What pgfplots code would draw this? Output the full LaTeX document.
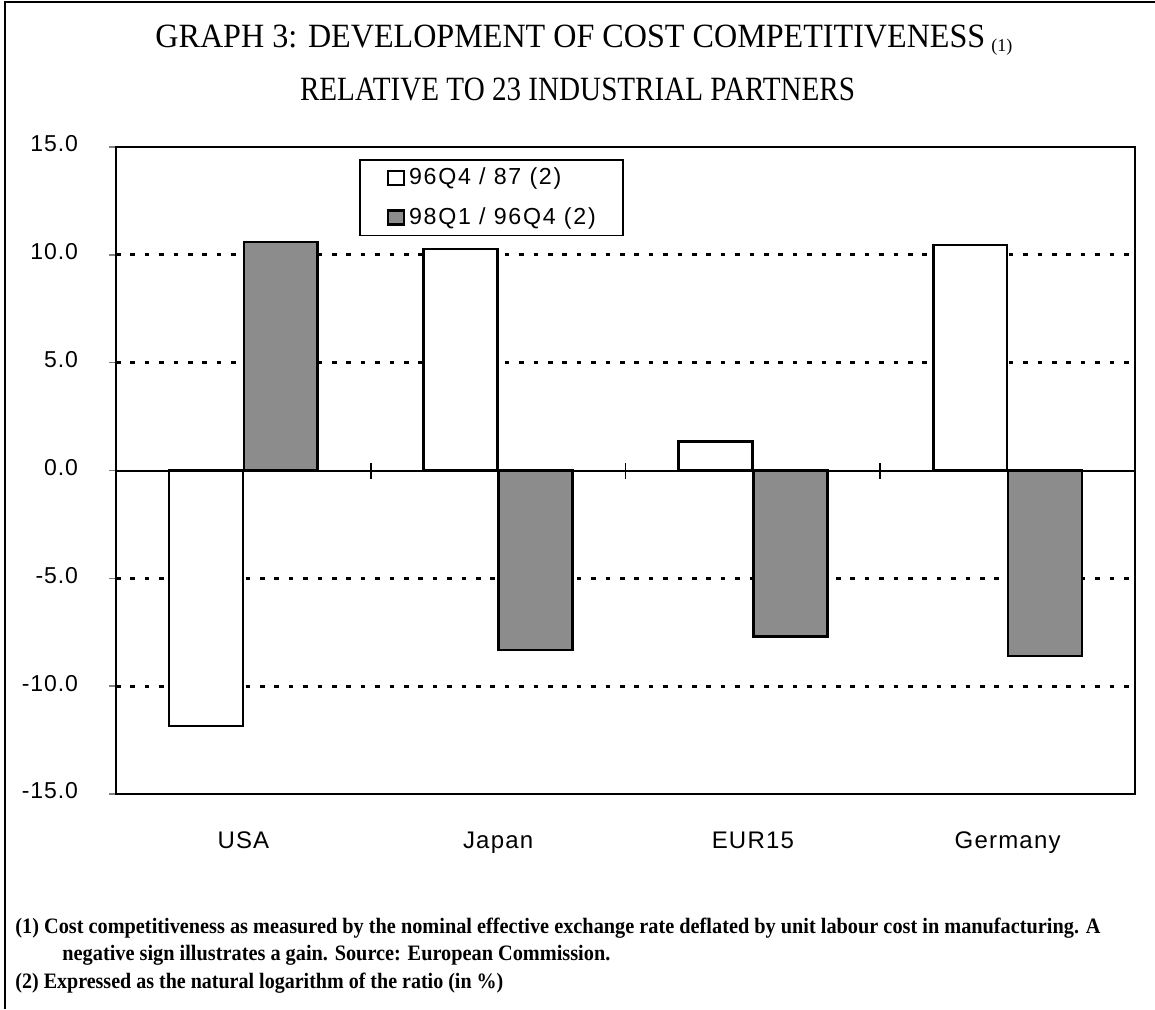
\documentclass[border=0pt]{standalone}
\usepackage{pgfplots}
\pgfplotsset{compat=1.18}
\usepackage{fontspec}
\usepackage{graphicx}
\setmainfont{Liberation Serif}
\newfontfamily\ticksans{Liberation Sans}[LetterSpace=4]
\newfontfamily\catsans{Liberation Sans}[LetterSpace=5]
\newfontfamily\legsans{Liberation Sans}[LetterSpace=7.5]
\begin{document}
\begin{tikzpicture}[x=1pt,y=1pt]
\useasboundingbox (0,0) rectangle (577.5,504.5);
\draw[line width=1pt] (2.5,0) -- (2.5,503.5) -- (577.5,503.5);
\node[anchor=west, inner sep=0] at (77.5,484.5) {\resizebox{415pt}{\height}{\fontsize{17}{20}\selectfont GRAPH 3: DEVELOPMENT OF COST COMPETITIVENESS}\hspace{3pt}\raisebox{-2pt}{\fontsize{9}{11}\selectfont (1)}};
\node[inner sep=0] at (288.75,459.5) {\resizebox{277.5pt}{\height}{\fontsize{17}{20}\selectfont RELATIVE TO 23 INDUSTRIAL PARTNERS}};
\node[anchor=west, inner sep=0] at (7.5,40.5) {\resizebox{542.5pt}{\height}{\fontsize{11}{13}\selectfont\bfseries (1) Cost competitiveness as measured by the nominal effective exchange rate deflated by unit labour cost in manufacturing. A}};
\node[anchor=west, inner sep=0] at (31,27) {\resizebox{274pt}{\height}{\fontsize{11}{13}\selectfont\bfseries negative sign illustrates a gain. Source: European Commission.}};
\node[anchor=west, inner sep=0] at (7.5,13) {\resizebox{244pt}{\height}{\fontsize{11}{13}\selectfont\bfseries (2) Expressed as the natural logarithm of the ratio (in \%)}};
\begin{axis}[
  at={(58pt,107.5pt)}, anchor=south west,
  width=509.5pt, height=323.5pt, scale only axis,
  axis line style={line width=1.2pt},
  xmin=-0.5, xmax=3.5, ymin=-15, ymax=15,
  xtick={0,1,2,3}, xticklabels={USA,Japan,EUR15,Germany},
  x tick style={draw=none},
  xticklabel style={font=\catsans\fontsize{12}{14}\selectfont, yshift=-12pt},
  ytick={-15,-10,-5,0,5,10,15},
  yticklabels={-15.0,-10.0,-5.0,0.0,5.0,10.0,15.0},
  yticklabel style={font=\ticksans\fontsize{11.5}{13}\selectfont, xshift=-12pt, yshift=1.5pt},
  ytick pos=left, tick align=outside, major tick length=3.5pt,
  y tick style={line width=0.8pt},
  extra y ticks={-10,-5,5,10},
  extra y tick labels={},
  extra y tick style={grid=major, major tick length=0pt},
  grid style={line width=1.5pt, dash pattern=on 2.3pt off 4.9pt, black},
  ybar, bar width=0.29,
  legend style={at={(0.2385,0.9815)}, anchor=north west, draw=black, line width=0.8pt,
    font=\legsans\fontsize{11.6}{13}\selectfont, inner xsep=13.5pt, inner ysep=4pt,
    row sep=10pt, column sep=2pt, nodes={inner sep=0pt}},
  legend cell align=left,
  legend image code/.code={\draw[line width=1.1pt,#1] (0pt,-3.5pt) rectangle (8pt,3.5pt);},
]
\addplot[bar shift=-0.147, fill=white, draw=black, line width=1.3pt]
  coordinates {(0,-11.85) (1,10.28) (2,1.34) (3,10.46)};
\addlegendentry{96Q4 / 87 (2)}
\addplot[bar shift=0.147, fill=black!45, draw=black, line width=1.3pt]
  coordinates {(0,10.6) (1,-8.33) (2,-7.69) (3,-8.61)};
\addlegendentry{98Q1 / 96Q4 (2)}
\draw[line width=1pt] ([xshift=-4pt]axis cs:-0.5,0) -- (axis cs:3.5,0);
\pgfplotsinvokeforeach{0.5,1.5,2.5}{\draw[line width=0.8pt] ([yshift=-4pt]axis cs:#1,0) -- ([yshift=4pt]axis cs:#1,0);}
\end{axis}
\end{tikzpicture}
\end{document}
